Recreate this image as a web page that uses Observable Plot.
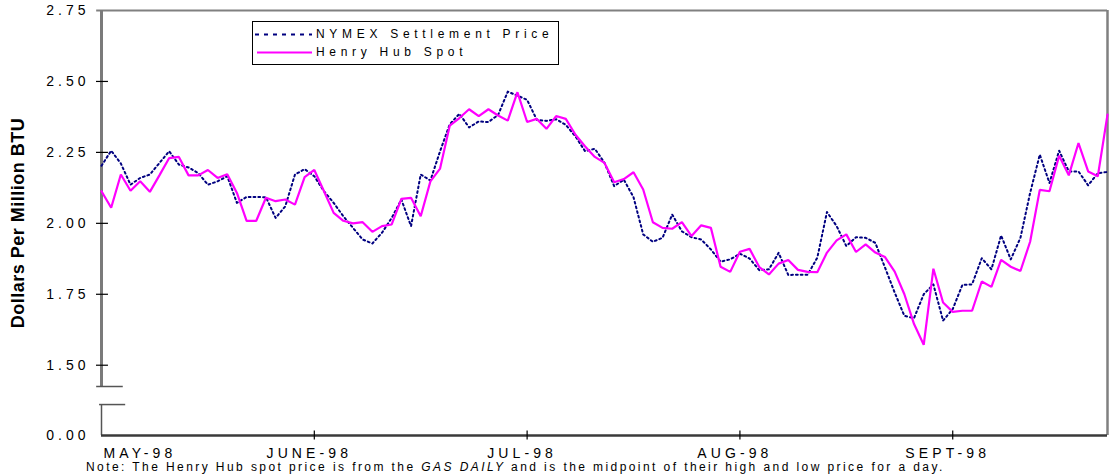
<!DOCTYPE html>
<html>
<head>
<meta charset="utf-8">
<script src="https://cdn.jsdelivr.net/npm/d3@7"></script>
<script src="https://cdn.jsdelivr.net/npm/@observablehq/plot@0.6"></script>
<style>
  html, body { margin: 0; padding: 0; background: #fff; overflow: hidden; }
  #wrap { position: relative; width: 1113px; height: 476px; font-family: "Liberation Sans", Arial, sans-serif; }
  #wrap > svg { position: absolute; left: 0; top: 0; }
  #legend { position: absolute; left: 252px; top: 21px; width: 305px; height: 42px; border: 1px solid #000; background: #fff; }
  #legend svg { position: absolute; left: 0; top: 0; }
  #legend .lab { position: absolute; left: 63px; font-size: 12px; letter-spacing: 4.7px; color: #000; line-height: 14px; white-space: nowrap; }
  #note { position: absolute; left: 86px; top: 460px; font-size: 12px; line-height: 14px; letter-spacing: 2.42px; white-space: nowrap; color: #000; }
</style>
</head>
<body>
<div id="wrap"></div>
<script>
// ---- data ----
const months = ["MAY-98", "JUNE-98", "JUL-98", "AUG-98", "SEPT-98"];
const monthStart = [0, 22, 44, 66, 88]; // trading-day index where each month begins
const yTicks = [0, 1.5, 1.75, 2.0, 2.25, 2.5, 2.75];
const seriesNames = ["NYMEX Settlement Price", "Henry Hub Spot"];

const nymex = [
  2.203, 2.256, 2.211, 2.136, 2.160, 2.172, 2.213, 2.254, 2.207, 2.197,
  2.177, 2.136, 2.148, 2.166, 2.072, 2.093, 2.093, 2.092, 2.019, 2.060,
  2.172, 2.191, 2.166, 2.113, 2.072, 2.025, 1.984, 1.943, 1.929, 1.967,
  2.019, 2.084, 1.990, 2.172, 2.151, 2.254, 2.349, 2.386, 2.338, 2.359,
  2.357, 2.382, 2.464, 2.450, 2.435, 2.365, 2.361, 2.367, 2.347, 2.306,
  2.254, 2.263, 2.213, 2.131, 2.154, 2.092, 1.961, 1.935, 1.949, 2.031,
  1.972, 1.951, 1.943, 1.908, 1.865, 1.873, 1.893, 1.876, 1.835, 1.838,
  1.896, 1.818, 1.819, 1.819, 1.879, 2.040, 1.990, 1.920, 1.951, 1.949,
  1.931, 1.844, 1.756, 1.674, 1.666, 1.750, 1.785, 1.657, 1.698, 1.783,
  1.785, 1.877, 1.838, 1.957, 1.873, 1.949, 2.107, 2.242, 2.142, 2.256,
  2.183, 2.183, 2.134, 2.177, 2.181
];

const henryHub = [
  2.113, 2.055, 2.172, 2.115, 2.148, 2.111, 2.170, 2.230, 2.234, 2.169,
  2.169, 2.188, 2.160, 2.173, 2.107, 2.009, 2.009, 2.090, 2.078, 2.084,
  2.066, 2.163, 2.188, 2.113, 2.037, 2.009, 2.000, 2.004, 1.970, 1.990,
  1.996, 2.086, 2.090, 2.025, 2.148, 2.193, 2.344, 2.371, 2.402, 2.378,
  2.402, 2.380, 2.362, 2.462, 2.357, 2.368, 2.333, 2.378, 2.368, 2.312,
  2.271, 2.234, 2.213, 2.145, 2.156, 2.180, 2.119, 2.004, 1.984, 1.981,
  2.004, 1.955, 1.993, 1.984, 1.847, 1.829, 1.900, 1.910, 1.846, 1.820,
  1.858, 1.871, 1.836, 1.829, 1.828, 1.897, 1.940, 1.961, 1.899, 1.926,
  1.897, 1.881, 1.830, 1.750, 1.645, 1.572, 1.840, 1.721, 1.688, 1.692,
  1.692, 1.795, 1.776, 1.871, 1.847, 1.832, 1.935, 2.118, 2.113, 2.238,
  2.169, 2.283, 2.183, 2.166, 2.383
];

const noteText = ["Note: The Henry Hub spot price is from the ", "GAS DAILY", " and is the midpoint of their high and low price for a day."];
const yTitle = "Dollars Per Million BTU";

// ---- chart ----
const last = henryHub.length - 1;
const breakTop = 1.425;   // axis break: upper segment starts here
const breakLow = 0.90;    // lower stub ends here
const W = 1113, H = 476;
const yRange = [435, 386, 10];

const chart = Plot.plot({
  width: W,
  height: H,
  marginLeft: 101,
  marginRight: 6,
  marginTop: 10,
  marginBottom: 41,
  style: { fontFamily: "Liberation Sans, Arial, sans-serif", background: "transparent", overflow: "visible" },
  x: { type: "linear", domain: [0, last], axis: null },
  y: { type: "linear", domain: [0, breakTop, 2.75], range: yRange, axis: null },
  marks: [
    // frame: top and right (gray)
    Plot.ruleY([2.75], { x1: -0.5, x2: last, stroke: "#808080", strokeWidth: 2 }),
    Plot.ruleX([last], { y1: 0, y2: 2.75, stroke: "#808080", strokeWidth: 2.5 }),
    // left axis with break
    Plot.ruleX([0], { y1: breakTop, y2: 2.75, stroke: "#7a7a7a", strokeWidth: 3 }),
    Plot.ruleX([0], { y1: 0, y2: breakLow, stroke: "#555", strokeWidth: 1.5 }),
    Plot.ruleY([breakTop], { x1: -0.5, x2: 2.25, stroke: "#555", strokeWidth: 1.5 }),
    Plot.ruleY([breakLow], { x1: -0.2, x2: 2.5, stroke: "#555", strokeWidth: 1.5 }),
    // y ticks crossing the axis
    Plot.ruleY(yTicks.filter(d => d > 0 && d < 2.75), { x1: -0.52, x2: 0.72, stroke: "#000", strokeWidth: 1.2 }),
    // bottom axis
    Plot.ruleY([0], { x1: 0, x2: last, stroke: "#3a3a3a", strokeWidth: 2.5 }),
    Plot.ruleX(monthStart.slice(1), { y1: -0.13, y2: 0.13, stroke: "#000", strokeWidth: 1.2 }),
    // y tick labels
    Plot.text(yTicks, { x: 0, y: d => d, text: d => d.toFixed(2), textAnchor: "end", dx: -12, fontSize: 14, fill: "#000", ariaLabel: "ytick-label" }),
    // month labels
    Plot.text([months[0]], { x: [monthStart[0]], y: [0], text: d => d, textAnchor: "start", dx: 2, dy: 18.5, fontSize: 14, fill: "#000", ariaLabel: "month-label" }),
    Plot.text(months.slice(1), { x: monthStart.slice(1), y: months.slice(1).map(() => 0), text: d => d, textAnchor: "middle", dx: -5, dy: 18.5, fontSize: 14, fill: "#000", ariaLabel: "month-label" }),
    // y title
    Plot.text([yTitle], { frameAnchor: "left", textAnchor: "middle", dx: -83, rotate: -90, fontSize: 18, fontWeight: "bold", fill: "#000" }),
    // series
    Plot.line(nymex, { x: (d, i) => i, y: d => d, stroke: "#000080", strokeWidth: 2, strokeDasharray: "1.8,3", strokeLinejoin: "round" }),
    Plot.line(henryHub, { x: (d, i) => i, y: d => d, stroke: "#ff00ff", strokeWidth: 2.2, strokeLinejoin: "miter" })
  ]
});

// letter spacing for text labels (Plot has no letterSpacing option)
d3.select(chart).selectAll("text").each(function () {
  const t = this.textContent;
  if (/^\d\.\d\d$/.test(t)) this.setAttribute("letter-spacing", "4px");
  else if (months.includes(t)) this.setAttribute("letter-spacing", "4.1px");
  else if (t === yTitle) this.setAttribute("letter-spacing", "0.5px");
});

const wrap = document.getElementById("wrap");
wrap.appendChild(chart);

// legend
const legend = document.createElement("div");
legend.id = "legend";
legend.innerHTML =
  `<svg width="305" height="42">
     <line x1="2" x2="59" y1="12.5" y2="12.5" stroke="#000080" stroke-width="2" stroke-dasharray="4,5"></line>
     <line x1="4" x2="59" y1="30.5" y2="30.5" stroke="#ff00ff" stroke-width="2"></line>
   </svg>
   <div class="lab" style="top:5px">${seriesNames[0]}</div>
   <div class="lab" style="top:23px">${seriesNames[1]}</div>`;
wrap.appendChild(legend);

// note
const note = document.createElement("div");
note.id = "note";
note.innerHTML = `${noteText[0]}<i>${noteText[1]}</i>${noteText[2]}`;
wrap.appendChild(note);
</script>
</body>
</html>
